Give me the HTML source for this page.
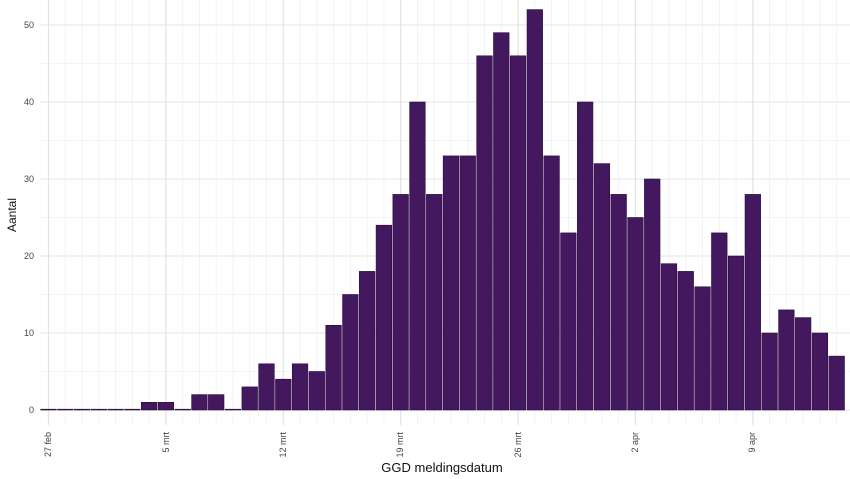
<!DOCTYPE html>
<html><head><meta charset="utf-8"><style>
html,body{margin:0;padding:0;background:#fff;}
svg{display:block;font-family:"Liberation Sans",sans-serif;}
</style></head><body>
<svg width="850" height="479" viewBox="0 0 850 479" xmlns="http://www.w3.org/2000/svg">
<g id="grid"></g>
<g id="bars"></g>
<g id="labels" fill="#444" font-size="9">
<text x="34" y="413" text-anchor="end">0</text>
<text x="34" y="336" text-anchor="end">10</text>
<text x="34" y="259" text-anchor="end">20</text>
<text x="34" y="182" text-anchor="end">30</text>
<text x="34" y="105" text-anchor="end">40</text>
<text x="34" y="28" text-anchor="end">50</text>
</g>
<text transform="translate(16,215) rotate(-90)" text-anchor="middle" font-size="12" fill="#111">Aantal</text>
<text x="442" y="472" text-anchor="middle" font-size="13" fill="#111">GGD meldingsdatum</text>
<g font-size="9" fill="#444">
<text transform="translate(51,432) rotate(-90)" text-anchor="end">27 feb</text>
<text transform="translate(169,432) rotate(-90)" text-anchor="end">5 mrt</text>
<text transform="translate(286,432) rotate(-90)" text-anchor="end">12 mrt</text>
<text transform="translate(403,432) rotate(-90)" text-anchor="end">19 mrt</text>
<text transform="translate(521,432) rotate(-90)" text-anchor="end">26 mrt</text>
<text transform="translate(638,432) rotate(-90)" text-anchor="end">2 apr</text>
<text transform="translate(755,432) rotate(-90)" text-anchor="end">9 apr</text>
</g>
</svg>
<script>
var vals=[0,0,0,0,0,0,1,1,0,2,2,0,3,6,4,6,5,11,15,18,24,28,40,28,33,33,46,49,46,52,33,23,40,32,28,25,30,19,18,16,23,20,28,10,13,12,10,7];
var ns="http://www.w3.org/2000/svg";
var g=document.getElementById("grid"),b=document.getElementById("bars");
function el(p,t,a){var e=document.createElementNS(ns,t);for(var k in a)e.setAttribute(k,a[k]);p.appendChild(e);return e;}
var step=16.77,c0=48.5,y0=410,u=7.7;
for(var v=0;v<=55;v+=5){var y=y0-v*u;el(g,"line",{x1:40,x2:850,y1:y,y2:y,stroke:v%10==0?"#e4e4e4":"#efefef","stroke-width":v%10==0?1.1:0.8});}
for(var i=0;i<=48;i+=1){var x=c0+i*step;var major=(i%7==0);el(g,"line",{x1:x,x2:x,y1:0,y2:425,stroke:major?"#e2e2e2":"#f0f0f0","stroke-width":major?1.2:0.8});}
for(var i=0;i<vals.length;i++){var x=c0+i*step-7.8;var h=Math.max(vals[i]*u,0.8);el(b,"rect",{x:x,y:y0-h,width:15.6,height:h,fill:"#44185f",stroke:"#2a0c3c","stroke-width":0.6});}
</script>
</body></html>
